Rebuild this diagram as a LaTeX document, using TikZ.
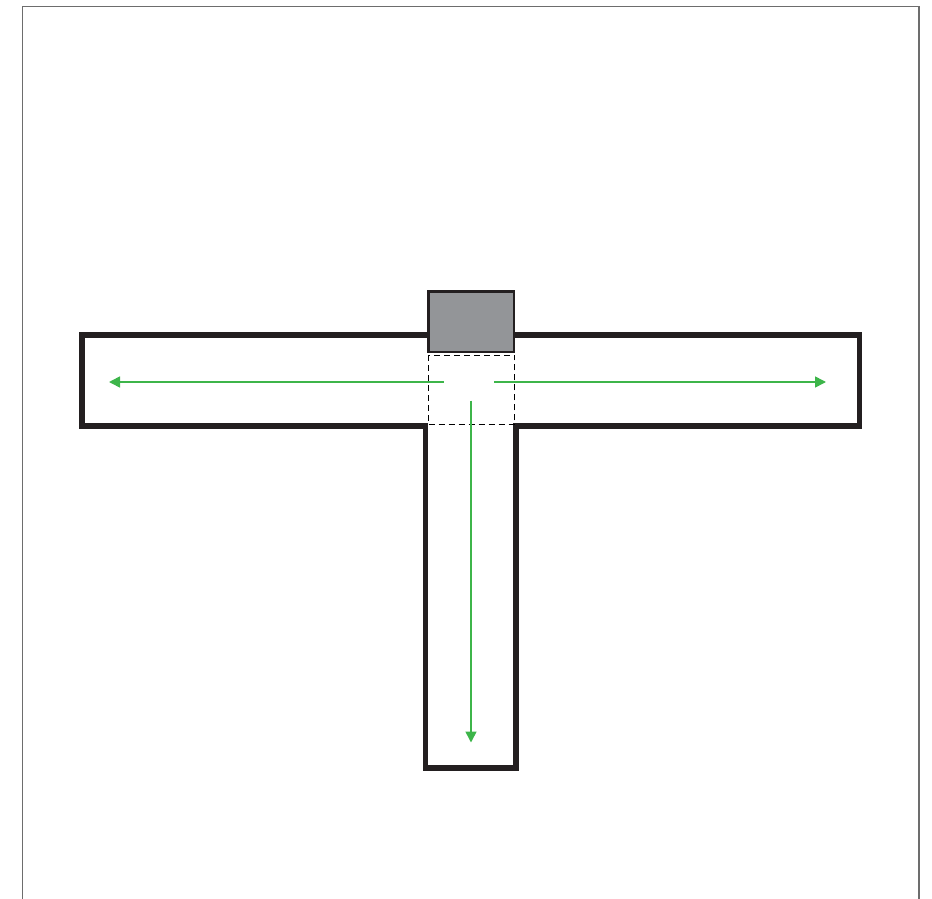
\documentclass[tikz,border=0pt]{standalone}
\usetikzlibrary{arrows.meta}
\definecolor{framegray}{HTML}{6D6D6D}
\definecolor{wallblack}{HTML}{231F20}
\definecolor{boxgray}{HTML}{939598}
\definecolor{flowgreen}{HTML}{3DB54A}
\tikzset{
  wall/.style={draw=wallblack, line width=5.4pt, line join=miter},
  flow/.style={draw=flowgreen, line width=1.6pt, -{Triangle[length=11pt,width=11pt]}},
  zone/.style={draw=black, line width=0.9pt, dash pattern=on 6pt off 4pt},
}
\begin{document}
\begin{tikzpicture}[x=1pt,y=-1pt]
\useasboundingbox (0,0) rectangle (932,899);
% outer frame
\draw[framegray, line width=1.8pt] (22.5,899) -- (22.5,6.5) -- (918.7,6.5) -- (918.7,899);
% T-shaped corridor
\draw[wall] (82,335) -- (859.5,335) -- (859.5,426) -- (516,426) -- (516,768)
  -- (425.5,768) -- (425.5,426) -- (82,426) -- cycle;
% dashed junction zone
\draw[zone] (428,355) rectangle (514.3,424.5);
% grey block
\draw[fill=boxgray, draw=wallblack, line width=2.6pt] (428.3,291.5) rectangle (514,352);
% flow arrows
\coordinate (lS) at (443.5,382);
\coordinate (lE) at (109,382);
\coordinate (rS) at (494,382);
\coordinate (rE) at (826,382);
\coordinate (dS) at (471,400.5);
\coordinate (dE) at (471,742.5);
\draw[flow] (lS) -- (lE);
\draw[flow] (rS) -- (rE);
\draw[flow] (dS) -- (dE);
\end{tikzpicture}
\end{document}
